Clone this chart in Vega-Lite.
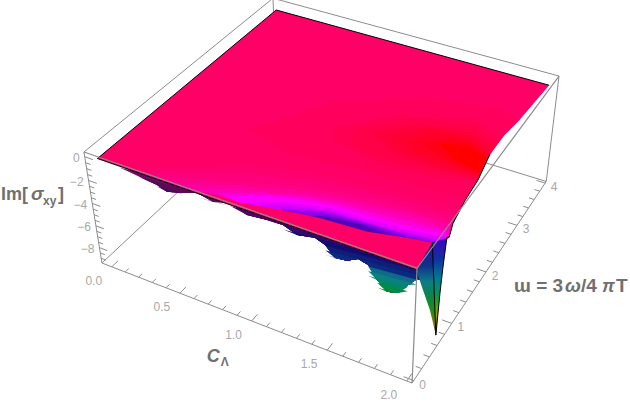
{"$schema":"https://vega.github.io/schema/vega-lite/v6.json","width":630,"height":405,"padding":0,"autosize":"none","background":"white","config":{"view":{"stroke":null},"text":{"font":"Liberation Sans"}},
"data":{"values":[
{"p":"back","c":-0.074,"w":-0.041,"z":-9.45,"c2":-0.074,"w2":4.04,"z2":-9.45},
{"p":"back","c":-0.074,"w":4.04,"z":-9.45,"c2":2.032,"w2":4.04,"z2":-9.45},
{"p":"back","c":2.032,"w":4.04,"z":-9.45,"c2":2.032,"w2":4.04,"z2":0.39},
{"p":"back","c":-0.074,"w":4.04,"z":-9.45,"c2":-0.074,"w2":4.04,"z2":0.39},
{"p":"back","c":-0.074,"w":4.04,"z":0.39,"c2":2.032,"w2":4.04,"z2":0.39},
{"p":"back","c":-0.074,"w":-0.041,"z":0.39,"c2":-0.074,"w2":4.04,"z2":0.39},
{"p":"back","c":-0.074,"w":-0.041,"z":-9.45,"c2":-0.074,"w2":-0.041,"z2":0.39},
{"p":"back","c":-0.074,"w":-0.041,"z":-9.45,"c2":2.032,"w2":-0.041,"z2":-9.45},
{"p":"back","c":2.032,"w":-0.041,"z":-9.45,"c2":2.032,"w2":4.04,"z2":-9.45},
{"p":"front","c":2.032,"w":-0.041,"z":0.39,"c2":2.032,"w2":4.04,"z2":0.39},
{"p":"front","c":-0.074,"w":-0.041,"z":0.39,"c2":2.032,"w2":-0.041,"z2":0.39},
{"p":"front","c":2.032,"w":-0.041,"z":-9.45,"c2":2.032,"w2":-0.041,"z2":0.39},

{"p":"back","c":0,"w":-0.041,"z":-9.45,"c2":0,"w2":0.08,"z2":-9.45},{"p":"back","c":0.1,"w":-0.041,"z":-9.45,"c2":0.1,"w2":0.03,"z2":-9.45},{"p":"back","c":0.2,"w":-0.041,"z":-9.45,"c2":0.2,"w2":0.03,"z2":-9.45},{"p":"back","c":0.3,"w":-0.041,"z":-9.45,"c2":0.3,"w2":0.03,"z2":-9.45},{"p":"back","c":0.4,"w":-0.041,"z":-9.45,"c2":0.4,"w2":0.03,"z2":-9.45},{"p":"back","c":0.5,"w":-0.041,"z":-9.45,"c2":0.5,"w2":0.08,"z2":-9.45},{"p":"back","c":0.6,"w":-0.041,"z":-9.45,"c2":0.6,"w2":0.03,"z2":-9.45},{"p":"back","c":0.7,"w":-0.041,"z":-9.45,"c2":0.7,"w2":0.03,"z2":-9.45},{"p":"back","c":0.8,"w":-0.041,"z":-9.45,"c2":0.8,"w2":0.03,"z2":-9.45},{"p":"back","c":0.9,"w":-0.041,"z":-9.45,"c2":0.9,"w2":0.03,"z2":-9.45},{"p":"back","c":1,"w":-0.041,"z":-9.45,"c2":1,"w2":0.08,"z2":-9.45},{"p":"back","c":1.1,"w":-0.041,"z":-9.45,"c2":1.1,"w2":0.03,"z2":-9.45},{"p":"back","c":1.2,"w":-0.041,"z":-9.45,"c2":1.2,"w2":0.03,"z2":-9.45},{"p":"back","c":1.3,"w":-0.041,"z":-9.45,"c2":1.3,"w2":0.03,"z2":-9.45},{"p":"back","c":1.4,"w":-0.041,"z":-9.45,"c2":1.4,"w2":0.03,"z2":-9.45},{"p":"back","c":1.5,"w":-0.041,"z":-9.45,"c2":1.5,"w2":0.08,"z2":-9.45},{"p":"back","c":1.6,"w":-0.041,"z":-9.45,"c2":1.6,"w2":0.03,"z2":-9.45},{"p":"back","c":1.7,"w":-0.041,"z":-9.45,"c2":1.7,"w2":0.03,"z2":-9.45},{"p":"back","c":1.8,"w":-0.041,"z":-9.45,"c2":1.8,"w2":0.03,"z2":-9.45},{"p":"back","c":1.9,"w":-0.041,"z":-9.45,"c2":1.9,"w2":0.03,"z2":-9.45},{"p":"back","c":2,"w":-0.041,"z":-9.45,"c2":2,"w2":0.08,"z2":-9.45},

{"p":"back","c":2.032,"w":0,"z":-9.45,"c2":1.97,"w2":0,"z2":-9.45},{"p":"back","c":2.032,"w":0.2,"z":-9.45,"c2":1.995,"w2":0.2,"z2":-9.45},{"p":"back","c":2.032,"w":0.4,"z":-9.45,"c2":1.995,"w2":0.4,"z2":-9.45},{"p":"back","c":2.032,"w":0.6,"z":-9.45,"c2":1.995,"w2":0.6,"z2":-9.45},{"p":"back","c":2.032,"w":0.8,"z":-9.45,"c2":1.995,"w2":0.8,"z2":-9.45},{"p":"back","c":2.032,"w":1,"z":-9.45,"c2":1.97,"w2":1,"z2":-9.45},{"p":"back","c":2.032,"w":1.2,"z":-9.45,"c2":1.995,"w2":1.2,"z2":-9.45},{"p":"back","c":2.032,"w":1.4,"z":-9.45,"c2":1.995,"w2":1.4,"z2":-9.45},{"p":"back","c":2.032,"w":1.6,"z":-9.45,"c2":1.995,"w2":1.6,"z2":-9.45},{"p":"back","c":2.032,"w":1.8,"z":-9.45,"c2":1.995,"w2":1.8,"z2":-9.45},{"p":"back","c":2.032,"w":2,"z":-9.45,"c2":1.97,"w2":2,"z2":-9.45},{"p":"back","c":2.032,"w":2.2,"z":-9.45,"c2":1.995,"w2":2.2,"z2":-9.45},{"p":"back","c":2.032,"w":2.4,"z":-9.45,"c2":1.995,"w2":2.4,"z2":-9.45},{"p":"back","c":2.032,"w":2.6,"z":-9.45,"c2":1.995,"w2":2.6,"z2":-9.45},{"p":"back","c":2.032,"w":2.8,"z":-9.45,"c2":1.995,"w2":2.8,"z2":-9.45},{"p":"back","c":2.032,"w":3,"z":-9.45,"c2":1.97,"w2":3,"z2":-9.45},{"p":"back","c":2.032,"w":3.2,"z":-9.45,"c2":1.995,"w2":3.2,"z2":-9.45},{"p":"back","c":2.032,"w":3.4,"z":-9.45,"c2":1.995,"w2":3.4,"z2":-9.45},{"p":"back","c":2.032,"w":3.6,"z":-9.45,"c2":1.995,"w2":3.6,"z2":-9.45},{"p":"back","c":2.032,"w":3.8,"z":-9.45,"c2":1.995,"w2":3.8,"z2":-9.45},{"p":"back","c":2.032,"w":4,"z":-9.45,"c2":1.97,"w2":4,"z2":-9.45},

{"p":"back","c":-0.074,"w":-0.041,"z":0,"c2":-0.015,"w2":-0.041,"z2":0},{"p":"back","c":-0.074,"w":-0.041,"z":-0.5,"c2":-0.04,"w2":-0.041,"z2":-0.5},{"p":"back","c":-0.074,"w":-0.041,"z":-1,"c2":-0.04,"w2":-0.041,"z2":-1},{"p":"back","c":-0.074,"w":-0.041,"z":-1.5,"c2":-0.04,"w2":-0.041,"z2":-1.5},{"p":"back","c":-0.074,"w":-0.041,"z":-2,"c2":-0.015,"w2":-0.041,"z2":-2},{"p":"back","c":-0.074,"w":-0.041,"z":-2.5,"c2":-0.04,"w2":-0.041,"z2":-2.5},{"p":"back","c":-0.074,"w":-0.041,"z":-3,"c2":-0.04,"w2":-0.041,"z2":-3},{"p":"back","c":-0.074,"w":-0.041,"z":-3.5,"c2":-0.04,"w2":-0.041,"z2":-3.5},{"p":"back","c":-0.074,"w":-0.041,"z":-4,"c2":-0.015,"w2":-0.041,"z2":-4},{"p":"back","c":-0.074,"w":-0.041,"z":-4.5,"c2":-0.04,"w2":-0.041,"z2":-4.5},{"p":"back","c":-0.074,"w":-0.041,"z":-5,"c2":-0.04,"w2":-0.041,"z2":-5},{"p":"back","c":-0.074,"w":-0.041,"z":-5.5,"c2":-0.04,"w2":-0.041,"z2":-5.5},{"p":"back","c":-0.074,"w":-0.041,"z":-6,"c2":-0.015,"w2":-0.041,"z2":-6},{"p":"back","c":-0.074,"w":-0.041,"z":-6.5,"c2":-0.04,"w2":-0.041,"z2":-6.5},{"p":"back","c":-0.074,"w":-0.041,"z":-7,"c2":-0.04,"w2":-0.041,"z2":-7},{"p":"back","c":-0.074,"w":-0.041,"z":-7.5,"c2":-0.04,"w2":-0.041,"z2":-7.5},{"p":"back","c":-0.074,"w":-0.041,"z":-8,"c2":-0.015,"w2":-0.041,"z2":-8},{"p":"back","c":-0.074,"w":-0.041,"z":-8.5,"c2":-0.04,"w2":-0.041,"z2":-8.5},{"p":"back","c":-0.074,"w":-0.041,"z":-9,"c2":-0.04,"w2":-0.041,"z2":-9},

{"p":"s","k":0,"level":0,"c":0,"w":0,"z":0},{"p":"s","k":0,"level":0,"c":0,"w":3.88,"z":0},{"p":"s","k":0,"level":0,"c":2,"w":3.88,"z":0},{"p":"s","k":0,"level":0,"c":1.98,"w":3,"z":0},{"p":"s","k":0,"level":0,"c":1.96,"w":2.62,"z":0},{"p":"s","k":0,"level":0,"c":1.96,"w":2.17,"z":0},{"p":"s","k":0,"level":0,"c":1.996,"w":1.67,"z":0},{"p":"s","k":0,"level":0,"c":2.007,"w":1.27,"z":0},{"p":"s","k":0,"level":0,"c":2.03,"w":0.85,"z":0},{"p":"s","k":0,"level":0,"c":2.06,"w":0.62,"z":0},{"p":"s","k":0,"level":0,"c":2.03,"w":0.03,"z":0},

{"p":"s","k":"a0","level":-0.5,"c":0.6,"w":1.3,"z":0},{"p":"s","k":"a0","level":-0.5,"c":0.9,"w":2.3,"z":0},{"p":"s","k":"a0","level":-0.5,"c":1.4,"w":2.95,"z":0},{"p":"s","k":"a0","level":-0.5,"c":1.8,"w":3.1,"z":0},{"p":"s","k":"a0","level":-0.5,"c":1.98,"w":3,"z":0},{"p":"s","k":"a0","level":-0.5,"c":1.96,"w":2.62,"z":0},{"p":"s","k":"a0","level":-0.5,"c":1.96,"w":2.17,"z":0},{"p":"s","k":"a0","level":-0.5,"c":1.996,"w":1.67,"z":0},{"p":"s","k":"a0","level":-0.5,"c":2,"w":1.3,"z":0},{"p":"s","k":"a0","level":-0.5,"c":1.7,"w":1.25,"z":0},{"p":"s","k":"a0","level":-0.5,"c":1.3,"w":1.2,"z":0},{"p":"s","k":"a0","level":-0.5,"c":0.9,"w":1.1,"z":0},
{"p":"s","k":1,"level":-1,"c":1.04,"w":1.81,"z":0},{"p":"s","k":1,"level":-1,"c":1.32,"w":2.43,"z":0},{"p":"s","k":1,"level":-1,"c":1.73,"w":2.77,"z":0},{"p":"s","k":1,"level":-1,"c":1.95,"w":2.57,"z":0},{"p":"s","k":1,"level":-1,"c":1.96,"w":2,"z":0},{"p":"s","k":1,"level":-1,"c":1.99,"w":1.65,"z":0},{"p":"s","k":1,"level":-1,"c":1.8,"w":1.47,"z":0},{"p":"s","k":1,"level":-1,"c":1.45,"w":1.4,"z":0},{"p":"s","k":1,"level":-1,"c":1.1,"w":1.56,"z":0},
{"p":"s","k":"a1","level":-1.5,"c":1.15,"w":1.88,"z":0},{"p":"s","k":"a1","level":-1.5,"c":1.4,"w":2.39,"z":0},{"p":"s","k":"a1","level":-1.5,"c":1.76,"w":2.64,"z":0},{"p":"s","k":"a1","level":-1.5,"c":1.95,"w":2.45,"z":0},{"p":"s","k":"a1","level":-1.5,"c":1.985,"w":1.68,"z":0},{"p":"s","k":"a1","level":-1.5,"c":1.78,"w":1.55,"z":0},{"p":"s","k":"a1","level":-1.5,"c":1.46,"w":1.52,"z":0},{"p":"s","k":"a1","level":-1.5,"c":1.2,"w":1.6,"z":0},
{"p":"s","k":2,"level":-2,"c":1.25,"w":1.94,"z":0},{"p":"s","k":2,"level":-2,"c":1.47,"w":2.34,"z":0},{"p":"s","k":2,"level":-2,"c":1.79,"w":2.52,"z":0},{"p":"s","k":2,"level":-2,"c":1.95,"w":2.34,"z":0},{"p":"s","k":2,"level":-2,"c":1.985,"w":1.7,"z":0},{"p":"s","k":2,"level":-2,"c":1.76,"w":1.64,"z":0},{"p":"s","k":2,"level":-2,"c":1.48,"w":1.65,"z":0},
{"p":"s","k":"a2","level":-2.5,"c":1.36,"w":1.95,"z":0},{"p":"s","k":"a2","level":-2.5,"c":1.53,"w":2.33,"z":0},{"p":"s","k":"a2","level":-2.5,"c":1.81,"w":2.43,"z":0},{"p":"s","k":"a2","level":-2.5,"c":1.95,"w":2.25,"z":0},{"p":"s","k":"a2","level":-2.5,"c":1.985,"w":1.72,"z":0},{"p":"s","k":"a2","level":-2.5,"c":1.76,"w":1.71,"z":0},{"p":"s","k":"a2","level":-2.5,"c":1.52,"w":1.73,"z":0},
{"p":"s","k":3,"level":-3,"c":1.47,"w":1.96,"z":0},{"p":"s","k":3,"level":-3,"c":1.6,"w":2.31,"z":0},{"p":"s","k":3,"level":-3,"c":1.83,"w":2.35,"z":0},{"p":"s","k":3,"level":-3,"c":1.95,"w":2.16,"z":0},{"p":"s","k":3,"level":-3,"c":1.985,"w":1.75,"z":0},{"p":"s","k":3,"level":-3,"c":1.76,"w":1.78,"z":0},{"p":"s","k":3,"level":-3,"c":1.57,"w":1.81,"z":0},
{"p":"s","k":"a3","level":-3.5,"c":1.56,"w":2.02,"z":0},{"p":"s","k":"a3","level":-3.5,"c":1.7,"w":2.27,"z":0},{"p":"s","k":"a3","level":-3.5,"c":1.84,"w":2.29,"z":0},{"p":"s","k":"a3","level":-3.5,"c":1.95,"w":2.13,"z":0},{"p":"s","k":"a3","level":-3.5,"c":1.98,"w":1.78,"z":0},{"p":"s","k":"a3","level":-3.5,"c":1.78,"w":1.83,"z":0},{"p":"s","k":"a3","level":-3.5,"c":1.68,"w":1.9,"z":0},
{"p":"s","k":4,"level":-4,"c":1.65,"w":2.09,"z":0},{"p":"s","k":4,"level":-4,"c":1.81,"w":2.22,"z":0},{"p":"s","k":4,"level":-4,"c":1.955,"w":2.1,"z":0},{"p":"s","k":4,"level":-4,"c":1.975,"w":1.8,"z":0},{"p":"s","k":4,"level":-4,"c":1.8,"w":1.89,"z":0},

{"p":"s","k":10,"level":0.3,"c":0.22,"w":0,"z":0},{"p":"s","k":10,"level":0.3,"c":0.4,"w":0.25,"z":0},{"p":"s","k":10,"level":0.3,"c":0.6,"w":0.47,"z":0},{"p":"s","k":10,"level":0.3,"c":0.8,"w":0.7,"z":0},{"p":"s","k":10,"level":0.3,"c":1,"w":0.82,"z":0},{"p":"s","k":10,"level":0.3,"c":1.2,"w":0.92,"z":0},{"p":"s","k":10,"level":0.3,"c":1.4,"w":0.98,"z":0},{"p":"s","k":10,"level":0.3,"c":1.6,"w":1.02,"z":0},{"p":"s","k":10,"level":0.3,"c":1.8,"w":1.05,"z":0},{"p":"s","k":10,"level":0.3,"c":2.015,"w":1.08,"z":0},{"p":"s","k":10,"level":0.3,"c":2,"w":0,"z":0},
{"p":"s","k":11,"level":0.7,"c":0.31,"w":0,"z":0},{"p":"s","k":11,"level":0.7,"c":0.4,"w":0.13,"z":0},{"p":"s","k":11,"level":0.7,"c":0.6,"w":0.335,"z":0},{"p":"s","k":11,"level":0.7,"c":0.8,"w":0.53,"z":0},{"p":"s","k":11,"level":0.7,"c":1,"w":0.675,"z":0},{"p":"s","k":11,"level":0.7,"c":1.2,"w":0.79,"z":0},{"p":"s","k":11,"level":0.7,"c":1.4,"w":0.865,"z":0},{"p":"s","k":11,"level":0.7,"c":1.6,"w":0.925,"z":0},{"p":"s","k":11,"level":0.7,"c":1.8,"w":0.96,"z":0},{"p":"s","k":11,"level":0.7,"c":2.02,"w":0.99,"z":0},{"p":"s","k":11,"level":0.7,"c":2,"w":0,"z":0},
{"p":"s","k":12,"level":1.1,"c":0.4,"w":0.02,"z":0},{"p":"s","k":12,"level":1.1,"c":0.6,"w":0.2,"z":0},{"p":"s","k":12,"level":1.1,"c":0.8,"w":0.36,"z":0},{"p":"s","k":12,"level":1.1,"c":1,"w":0.53,"z":0},{"p":"s","k":12,"level":1.1,"c":1.2,"w":0.66,"z":0},{"p":"s","k":12,"level":1.1,"c":1.4,"w":0.75,"z":0},{"p":"s","k":12,"level":1.1,"c":1.6,"w":0.83,"z":0},{"p":"s","k":12,"level":1.1,"c":1.8,"w":0.87,"z":0},{"p":"s","k":12,"level":1.1,"c":2.03,"w":0.9,"z":0},{"p":"s","k":12,"level":1.1,"c":2,"w":0,"z":0},
{"p":"s","k":13,"level":1.7,"c":0.52,"w":0,"z":0},{"p":"s","k":13,"level":1.7,"c":0.6,"w":0.1,"z":0},{"p":"s","k":13,"level":1.7,"c":0.8,"w":0.29,"z":0},{"p":"s","k":13,"level":1.7,"c":1,"w":0.445,"z":0},{"p":"s","k":13,"level":1.7,"c":1.2,"w":0.59,"z":0},{"p":"s","k":13,"level":1.7,"c":1.4,"w":0.685,"z":0},{"p":"s","k":13,"level":1.7,"c":1.6,"w":0.755,"z":0},{"p":"s","k":13,"level":1.7,"c":1.8,"w":0.805,"z":0},{"p":"s","k":13,"level":1.7,"c":2.035,"w":0.825,"z":0},{"p":"s","k":13,"level":1.7,"c":2,"w":0,"z":0},
{"p":"s","k":14,"level":2.3,"c":0.64,"w":0.02,"z":0},{"p":"s","k":14,"level":2.3,"c":0.8,"w":0.22,"z":0},{"p":"s","k":14,"level":2.3,"c":1,"w":0.36,"z":0},{"p":"s","k":14,"level":2.3,"c":1.2,"w":0.52,"z":0},{"p":"s","k":14,"level":2.3,"c":1.4,"w":0.62,"z":0},{"p":"s","k":14,"level":2.3,"c":1.6,"w":0.68,"z":0},{"p":"s","k":14,"level":2.3,"c":1.8,"w":0.74,"z":0},{"p":"s","k":14,"level":2.3,"c":2.04,"w":0.75,"z":0},{"p":"s","k":14,"level":2.3,"c":2,"w":0,"z":0},
{"p":"s","k":15,"level":3.1,"c":0.72,"w":0,"z":0},{"p":"s","k":15,"level":3.1,"c":0.8,"w":0.145,"z":0},{"p":"s","k":15,"level":3.1,"c":1,"w":0.33,"z":0},{"p":"s","k":15,"level":3.1,"c":1.2,"w":0.475,"z":0},{"p":"s","k":15,"level":3.1,"c":1.4,"w":0.57,"z":0},{"p":"s","k":15,"level":3.1,"c":1.6,"w":0.61,"z":0},{"p":"s","k":15,"level":3.1,"c":1.8,"w":0.655,"z":0},{"p":"s","k":15,"level":3.1,"c":2.05,"w":0.705,"z":0},{"p":"s","k":15,"level":3.1,"c":2,"w":0,"z":0},
{"p":"s","k":16,"level":4,"c":0.79,"w":0.04,"z":0},{"p":"s","k":16,"level":4,"c":0.9,"w":0.18,"z":0},{"p":"s","k":16,"level":4,"c":1,"w":0.3,"z":0},{"p":"s","k":16,"level":4,"c":1.2,"w":0.43,"z":0},{"p":"s","k":16,"level":4,"c":1.4,"w":0.52,"z":0},{"p":"s","k":16,"level":4,"c":1.6,"w":0.54,"z":0},{"p":"s","k":16,"level":4,"c":1.8,"w":0.57,"z":0},{"p":"s","k":16,"level":4,"c":2.055,"w":0.66,"z":0},{"p":"s","k":16,"level":4,"c":2,"w":0,"z":0},
{"p":"s","k":17,"level":4.5,"c":0.9,"w":0,"z":0},{"p":"s","k":17,"level":4.5,"c":1,"w":0.16,"z":0},{"p":"s","k":17,"level":4.5,"c":1.2,"w":0.36,"z":0},{"p":"s","k":17,"level":4.5,"c":1.4,"w":0.47,"z":0},{"p":"s","k":17,"level":4.5,"c":1.6,"w":0.485,"z":0},{"p":"s","k":17,"level":4.5,"c":1.8,"w":0.52,"z":0},{"p":"s","k":17,"level":4.5,"c":2.06,"w":0.605,"z":0},{"p":"s","k":17,"level":4.5,"c":2,"w":0,"z":0},
{"p":"s","k":18,"level":5,"c":1,"w":0.08,"z":0},{"p":"s","k":18,"level":5,"c":1.05,"w":0.16,"z":0},{"p":"s","k":18,"level":5,"c":1.2,"w":0.3,"z":0},{"p":"s","k":18,"level":5,"c":1.4,"w":0.42,"z":0},{"p":"s","k":18,"level":5,"c":1.6,"w":0.43,"z":0},{"p":"s","k":18,"level":5,"c":1.8,"w":0.47,"z":0},{"p":"s","k":18,"level":5,"c":2.06,"w":0.55,"z":0},{"p":"s","k":18,"level":5,"c":2,"w":0,"z":0},
{"p":"s","k":19,"level":5.5,"c":1.1,"w":0.12,"z":0},{"p":"s","k":19,"level":5.5,"c":1.2,"w":0.25,"z":0},{"p":"s","k":19,"level":5.5,"c":1.4,"w":0.395,"z":0},{"p":"s","k":19,"level":5.5,"c":1.6,"w":0.42,"z":0},{"p":"s","k":19,"level":5.5,"c":1.8,"w":0.45,"z":0},{"p":"s","k":19,"level":5.5,"c":2.06,"w":0.52,"z":0},{"p":"s","k":19,"level":5.5,"c":2,"w":0,"z":0},
{"p":"s","k":20,"level":6,"c":1.1,"w":0.05,"z":0},{"p":"s","k":20,"level":6,"c":1.18,"w":0.2,"z":0},{"p":"s","k":20,"level":6,"c":1.4,"w":0.37,"z":0},{"p":"s","k":20,"level":6,"c":1.6,"w":0.41,"z":0},{"p":"s","k":20,"level":6,"c":1.8,"w":0.43,"z":0},{"p":"s","k":20,"level":6,"c":2.06,"w":0.49,"z":0},{"p":"s","k":20,"level":6,"c":2,"w":0,"z":0},
{"p":"s","k":21,"level":6.5,"c":1.25,"w":0.15,"z":0},{"p":"s","k":21,"level":6.5,"c":1.4,"w":0.33,"z":0},{"p":"s","k":21,"level":6.5,"c":1.6,"w":0.39,"z":0},{"p":"s","k":21,"level":6.5,"c":1.8,"w":0.395,"z":0},{"p":"s","k":21,"level":6.5,"c":2.06,"w":0.48,"z":0},{"p":"s","k":21,"level":6.5,"c":2,"w":0,"z":0},
{"p":"s","k":22,"level":7,"c":1.3,"w":0.2,"z":0},{"p":"s","k":22,"level":7,"c":1.37,"w":0.29,"z":0},{"p":"s","k":22,"level":7,"c":1.6,"w":0.37,"z":0},{"p":"s","k":22,"level":7,"c":1.8,"w":0.36,"z":0},{"p":"s","k":22,"level":7,"c":2.06,"w":0.47,"z":0},{"p":"s","k":22,"level":7,"c":2,"w":0,"z":0},
{"p":"s","k":99,"level":0,"c":0.63,"w":0,"z":0},{"p":"s","k":99,"level":0,"c":0.8,"w":0.09,"z":0},{"p":"s","k":99,"level":0,"c":0.93,"w":0.08,"z":0},{"p":"s","k":99,"level":0,"c":1.16,"w":0.18,"z":0},{"p":"s","k":99,"level":0,"c":1.38,"w":0.26,"z":0},{"p":"s","k":99,"level":0,"c":1.66,"w":0.3,"z":0},{"p":"s","k":99,"level":0,"c":1.84,"w":0.39,"z":0},{"p":"s","k":99,"level":0,"c":2,"w":0.46,"z":0},{"p":"s","k":99,"level":0,"c":2.02,"w":0,"z":0},

{"p":"dipL","c":2.02,"w":0,"z":0},{"p":"dipL","c":2,"w":0.46,"z":0},{"p":"dipL","c":2,"w":0.7,"z":-9.18},{"p":"dipL","c":2,"w":0.492,"z":-5.85},{"p":"dipL","c":2,"w":0.247,"z":-2.67},{"p":"dipL","c":2,"w":0.16,"z":-1.5},
{"p":"dipR","c":2,"w":0.46,"z":0},{"p":"dipR","c":2.06,"w":0.62,"z":0},{"p":"dipR","c":2,"w":0.849,"z":-1.28},{"p":"dipR","c":2,"w":0.788,"z":-3.52},{"p":"dipR","c":2,"w":0.747,"z":-5.59},{"p":"dipR","c":2,"w":0.7,"z":-9.18},

{"p":"ol","k":1,"c":0,"w":0,"z":0},{"p":"ol","k":1,"c":0,"w":3.88,"z":0},{"p":"ol","k":1,"c":2,"w":3.88,"z":0},
{"p":"ol","k":2,"c":0,"w":0,"z":0},{"p":"ol","k":2,"c":2.02,"w":0,"z":0},
{"p":"ol","k":3,"c":1.96,"w":2.17,"z":0},{"p":"ol","k":3,"c":1.996,"w":1.67,"z":0},{"p":"ol","k":3,"c":2.007,"w":1.27,"z":0},{"p":"ol","k":3,"c":2.03,"w":0.85,"z":0},{"p":"ol","k":3,"c":2.06,"w":0.62,"z":0},{"p":"ol","k":3,"c":2,"w":0.849,"z":-1.28},{"p":"ol","k":3,"c":2,"w":0.788,"z":-3.52},{"p":"ol","k":3,"c":2,"w":0.747,"z":-5.59},{"p":"ol","k":3,"c":2,"w":0.7,"z":-9.18},{"p":"ol","k":3,"c":2,"w":0.46,"z":0},

{"p":"zl","c":-0.074,"w":-0.041,"z":0,"txt":"0"},{"p":"zl","c":-0.074,"w":-0.041,"z":-2,"txt":"−2"},{"p":"zl","c":-0.074,"w":-0.041,"z":-4,"txt":"−4"},{"p":"zl","c":-0.074,"w":-0.041,"z":-6,"txt":"−6"},{"p":"zl","c":-0.074,"w":-0.041,"z":-8,"txt":"−8"},
{"p":"cl","c":0,"w":-0.041,"z":-9.45,"txt":"0.0"},{"p":"cl","c":0.5,"w":-0.041,"z":-9.45,"txt":"0.5"},{"p":"cl","c":1,"w":-0.041,"z":-9.45,"txt":"1.0"},{"p":"cl","c":1.5,"w":-0.041,"z":-9.45,"txt":"1.5"},{"p":"cl","c":2,"w":-0.041,"z":-9.45,"txt":"2.0"},
{"p":"wl","c":2.032,"w":0,"z":-9.45,"txt":"0"},{"p":"wl","c":2.032,"w":1,"z":-9.45,"txt":"1"},{"p":"wl","c":2.032,"w":2,"z":-9.45,"txt":"2"},{"p":"wl","c":2.032,"w":3,"z":-9.45,"txt":"3"},{"p":"wl","c":2.032,"w":4,"z":-9.45,"txt":"4"},

{"p":"t1","c":0,"w":0,"z":-2.5,"txt":"Im["},{"p":"t2","c":0,"w":0,"z":-2.5,"txt":"σ"},{"p":"t3","c":0,"w":0,"z":-2.5,"txt":"xy"},{"p":"t4","c":0,"w":0,"z":-2.5,"txt":"]"},
{"p":"t5","c":1,"w":-0.041,"z":-9.45,"txt":"C"},{"p":"t6","c":1,"w":-0.041,"z":-9.45,"txt":"Λ"},
{"p":"t7","c":2.032,"w":2,"z":-9.45,"txt":"ɯ = 3"},{"p":"t8","c":2.032,"w":2,"z":-9.45,"txt":"ω"},{"p":"t9","c":2.032,"w":2,"z":-9.45,"txt":"/4"},{"p":"t10","c":2.032,"w":2,"z":-9.45,"txt":"π"},{"p":"t11","c":2.032,"w":2,"z":-9.45,"txt":"T"}
]},
"transform":[
{"calculate":"0.035+0.475*datum.c","as":"u"},{"calculate":"0.01+0.245*datum.w","as":"v"},{"calculate":"0.96+0.1016*datum.z","as":"t"},
{"calculate":"1-0.1029*datum.u+0.2045*datum.v-0.0675*datum.t","as":"D"},
{"calculate":"(102+267.6*datum.u+232.1*datum.v-23.67*datum.t)/datum.D","as":"sx"},
{"calculate":"(263+80.6*datum.u-143.8*datum.v-121.26*datum.t)/datum.D","as":"sy"},
{"calculate":"0.035+0.475*datum.c2","as":"u2"},{"calculate":"0.01+0.245*datum.w2","as":"v2"},{"calculate":"0.96+0.1016*datum.z2","as":"t2"},
{"calculate":"1-0.1029*datum.u2+0.2045*datum.v2-0.0675*datum.t2","as":"D2"},
{"calculate":"(102+267.6*datum.u2+232.1*datum.v2-23.67*datum.t2)/datum.D2","as":"sx2"},
{"calculate":"(263+80.6*datum.u2-143.8*datum.v2-121.26*datum.t2)/datum.D2","as":"sy2"}
],
"encoding":{"x":{"field":"sx","type":"quantitative","scale":{"domain":[0,630],"nice":false,"zero":false},"axis":null},"y":{"field":"sy","type":"quantitative","scale":{"domain":[405,0],"nice":false,"zero":false},"axis":null}},
"resolve":{"scale":{"color":"independent"}},
"layer":[
{"transform":[{"filter":"datum.p=='back'"}],"mark":{"type":"rule","color":"#8c8c8c","strokeWidth":1},"encoding":{"x2":{"field":"sx2"},"y2":{"field":"sy2"}}},
{"data":{"values":[
{"c":0,"w":0.1,"zb":0,"B":["0"]},
{"c":0.1,"w":0.12,"zb":-0.5,"B":["0","-0.8"]},
{"c":0.23,"w":0.146,"zb":-1.16,"B":["0","-0.8","-1.2"]},
{"c":0.337,"w":0.1674,"zb":-1.47,"B":["0","-0.8","-1.2","-1.6a"]},
{"c":0.398,"w":0.1796,"zb":-1.84,"B":["0","-0.8","-1.2","-1.6a"]},
{"c":0.503,"w":0.2006,"zb":-1.56,"B":["0","-0.8","-1.2","-1.6a"]},
{"c":0.596,"w":0.2192,"zb":-1.24,"B":["0","-0.8","-1.2","-1.6b"]},
{"c":0.693,"w":0.2386,"zb":-1.64,"B":["0","-0.8","-1.2","-1.6b"]},
{"c":0.802,"w":0.2604,"zb":-1.35,"B":["0","-0.8","-1.2","-1.6b","-1.6c"]},
{"c":0.903,"w":0.2806,"zb":-1.99,"B":["0","-0.8","-1.2","-1.6c"]},
{"c":1.027,"w":0.3054,"zb":-1.96,"B":["0","-0.8","-1.2","-1.6c","-2"]},
{"c":1.124,"w":0.3248,"zb":-2.03,"B":["0","-0.8","-1.2","-1.6c","-2","-2.4a"]},
{"c":1.208,"w":0.3416,"zb":-2.56,"B":["0","-0.8","-1.2","-1.6c","-2","-2.4a"]},
{"c":1.316,"w":0.3632,"zb":-2.39,"B":["0","-0.8","-1.2","-1.6c","-2","-2.4a","-2.4b"]},
{"c":1.377,"w":0.3754,"zb":-2.77,"B":["0","-0.8","-1.2","-1.6c","-2","-2.4b","-2.8","-3.2a","-3.6a"]},
{"c":1.436,"w":0.3872,"zb":-3.64,"B":["0","-0.8","-1.2","-1.6c","-2","-2.4b","-2.8","-3.2a","-3.6a"]},
{"c":1.505,"w":0.401,"zb":-3.62,"B":["0","-0.8","-1.2","-1.6c","-2","-2.4b","-2.8","-3.2a","-3.6a"]},
{"c":1.573,"w":0.4146,"zb":-3.2,"B":["0","-0.8","-1.2","-1.6c","-2","-2.4b","-2.8","-3.2a","-3.2b","-3.6a"]},
{"c":1.632,"w":0.4264,"zb":-3.47,"B":["0","-0.8","-1.2","-1.6c","-2","-2.4b","-2.8","-3.2b","-3.6b","-4","-4.4"]},
{"c":1.686,"w":0.4372,"zb":-4.56,"B":["0","-0.8","-1.2","-1.6c","-2","-2.4b","-2.8","-3.2b","-3.6b","-4","-4.4","-4.8","-5.2"]},
{"c":1.745,"w":0.449,"zb":-5.35,"B":["0","-0.8","-1.2","-1.6c","-2","-2.4b","-2.8","-3.2b","-3.6b","-4","-4.4","-4.8","-5.2"]},
{"c":1.81,"w":0.462,"zb":-5.18,"B":["0","-0.8","-1.2","-1.6c","-2","-2.4b","-2.8","-3.2b","-3.6b","-4","-4.4","-4.8","-5.2"]},
{"c":1.866,"w":0.4732,"zb":-4.25,"B":["0","-0.8","-1.2","-1.6c","-2","-2.4b","-2.8","-3.2b","-3.6b","-4","-4.4","-4.8"]},
{"c":1.916,"w":0.4832,"zb":-3.53,"B":["0","-0.8","-1.2","-1.6c","-2","-2.4b","-2.8","-3.2b","-3.6b","-4"]},
{"c":2,"w":0.5,"zb":-3.5,"B":["0","-0.8","-1.2","-1.6c","-2","-2.4b","-2.8","-3.2b"]},
{"c":2,"w":0.5,"zb":0,"B":["0","-0.8","-1.2","-1.6c","-2","-2.4b","-2.8","-3.2b"]}
]},"transform":[{"flatten":["B"]},
{"calculate":"parseFloat(datum.B)","as":"L"},
{"calculate":"min(datum.zb,datum.L)","as":"z"},
{"calculate":"0.035+0.475*datum.c","as":"u"},{"calculate":"0.01+0.245*datum.w","as":"v"},{"calculate":"0.96+0.1016*datum.z","as":"t"},
{"calculate":"1-0.1029*datum.u+0.2045*datum.v-0.0675*datum.t","as":"D"},
{"calculate":"(102+267.6*datum.u+232.1*datum.v-23.67*datum.t)/datum.D","as":"sx"},
{"calculate":"(263+80.6*datum.u-143.8*datum.v-121.26*datum.t)/datum.D","as":"sy"}],
"mark":{"type":"line","filled":true},
"encoding":{"order":{"value":null},"detail":{"field":"B","type":"nominal"},
"color":{"field":"L","type":"quantitative","legend":null,"scale":{"domain":[-5.2,-4.6,-4,-3.6,-3.2,-2.4,-1.8,-1.2,0],"range":["#058a20","#0a8a50","#0a8080","#0f6a8a","#0a2a80","#150a70","#3a0a70","#5a0a55","#80107a"]}}}},
{"transform":[{"filter":"datum.p=='s'"}],"mark":{"type":"line","filled":true},
"encoding":{"order":{"value":null},"detail":{"field":"k","type":"nominal"},
"color":{"field":"level","type":"quantitative","legend":null,"scale":{"domain":[-4,0,4,5,6,7],"range":["#ff0000","#ff0066","#ff00ff","#d000f8","#9000e8","#5000b8"]}}}},
{"transform":[{"filter":"datum.p=='dipL'"}],"mark":{"type":"line","filled":true,"fill":{"gradient":"linear","x1":0,"y1":0,"x2":0,"y2":1,"stops":[{"offset":0,"color":"#2a109a"},{"offset":0.25,"color":"#10308a"},{"offset":0.42,"color":"#0f7a88"},{"offset":0.62,"color":"#0a8a3a"},{"offset":0.75,"color":"#2a8a10"},{"offset":0.88,"color":"#8a7a10"},{"offset":1,"color":"#1a1000"}]}},"encoding":{"order":{"value":null}}},
{"transform":[{"filter":"datum.p=='dipR'"}],"mark":{"type":"line","filled":true,"fill":{"gradient":"linear","x1":0,"y1":0,"x2":0,"y2":1,"stops":[{"offset":0,"color":"#4000c0"},{"offset":0.22,"color":"#1030a0"},{"offset":0.42,"color":"#007a90"},{"offset":0.62,"color":"#00a040"},{"offset":0.8,"color":"#a0a000"},{"offset":1,"color":"#201000"}]}},"encoding":{"order":{"value":null}}},
{"transform":[{"filter":"datum.p=='ol'"}],"mark":{"type":"line","color":"#000000","strokeWidth":1},"encoding":{"order":{"value":null},"detail":{"field":"k","type":"nominal"}}},
{"transform":[{"filter":"datum.p=='front'"}],"mark":{"type":"rule","color":"#8c8c8c","strokeWidth":1.2},"encoding":{"x2":{"field":"sx2"},"y2":{"field":"sy2"}}},
{"transform":[{"filter":"datum.p=='zl'"}],"mark":{"type":"text","align":"right","baseline":"middle","dx":-5,"dy":1.5,"fontSize":12,"color":"#a8a8a8"},"encoding":{"text":{"field":"txt"}}},
{"transform":[{"filter":"datum.p=='cl'"}],"mark":{"type":"text","align":"center","baseline":"middle","dx":-18,"dy":14,"fontSize":12,"color":"#a8a8a8"},"encoding":{"text":{"field":"txt"}}},
{"transform":[{"filter":"datum.p=='wl'"}],"mark":{"type":"text","align":"center","baseline":"middle","dx":9,"dy":4,"fontSize":12,"color":"#a8a8a8"},"encoding":{"text":{"field":"txt"}}},
{"transform":[{"filter":"datum.p=='t1'"}],"mark":{"type":"text","align":"left","baseline":"alphabetic","dx":-101,"dy":12,"fontSize":18,"fontWeight":"bold","color":"#707070"},"encoding":{"text":{"field":"txt"}}},
{"transform":[{"filter":"datum.p=='t2'"}],"mark":{"type":"text","align":"left","baseline":"alphabetic","dx":-71,"dy":12,"fontSize":19,"fontWeight":"bold","fontStyle":"italic","color":"#707070"},"encoding":{"text":{"field":"txt"}}},
{"transform":[{"filter":"datum.p=='t3'"}],"mark":{"type":"text","align":"left","baseline":"alphabetic","dx":-59,"dy":17,"fontSize":12,"fontWeight":"bold","color":"#707070"},"encoding":{"text":{"field":"txt"}}},
{"transform":[{"filter":"datum.p=='t4'"}],"mark":{"type":"text","align":"left","baseline":"alphabetic","dx":-44,"dy":12,"fontSize":18,"fontWeight":"bold","color":"#707070"},"encoding":{"text":{"field":"txt"}}},
{"transform":[{"filter":"datum.p=='t5'"}],"mark":{"type":"text","align":"left","baseline":"alphabetic","dx":-45,"dy":41,"fontSize":18,"fontWeight":"bold","fontStyle":"italic","color":"#707070"},"encoding":{"text":{"field":"txt"}}},
{"transform":[{"filter":"datum.p=='t6'"}],"mark":{"type":"text","align":"left","baseline":"alphabetic","dx":-31,"dy":45,"fontSize":12,"fontWeight":"bold","color":"#707070"},"encoding":{"text":{"field":"txt"}}},
{"transform":[{"filter":"datum.p=='t7'"}],"mark":{"type":"text","align":"left","baseline":"alphabetic","dx":28,"dy":20,"fontSize":19,"fontWeight":"bold","color":"#707070"},"encoding":{"text":{"field":"txt"}}},
{"transform":[{"filter":"datum.p=='t8'"}],"mark":{"type":"text","align":"left","baseline":"alphabetic","dx":79,"dy":20,"fontSize":19,"fontWeight":"bold","fontStyle":"italic","color":"#707070"},"encoding":{"text":{"field":"txt"}}},
{"transform":[{"filter":"datum.p=='t9'"}],"mark":{"type":"text","align":"left","baseline":"alphabetic","dx":95,"dy":20,"fontSize":19,"fontWeight":"bold","color":"#707070"},"encoding":{"text":{"field":"txt"}}},
{"transform":[{"filter":"datum.p=='t10'"}],"mark":{"type":"text","align":"left","baseline":"alphabetic","dx":116,"dy":20,"fontSize":18,"fontWeight":"bold","fontStyle":"italic","color":"#707070"},"encoding":{"text":{"field":"txt"}}},
{"transform":[{"filter":"datum.p=='t11'"}],"mark":{"type":"text","align":"left","baseline":"alphabetic","dx":130,"dy":20,"fontSize":19,"fontWeight":"bold","color":"#707070"},"encoding":{"text":{"field":"txt"}}}
]}
